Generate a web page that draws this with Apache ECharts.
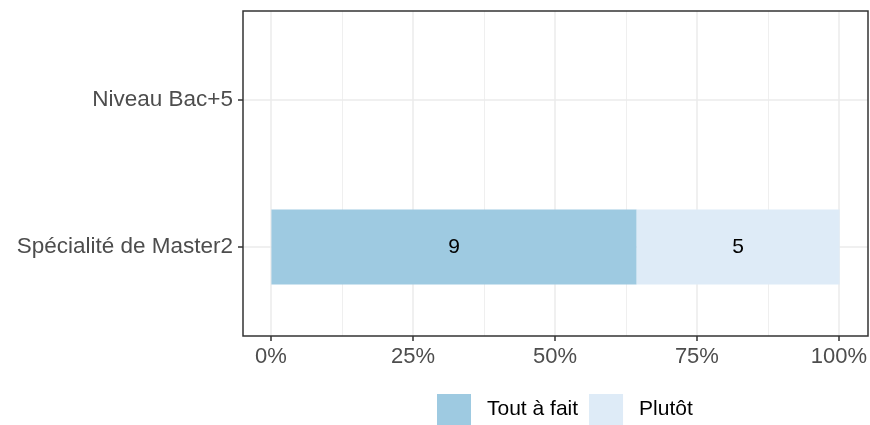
<!DOCTYPE html>
<html>
<head>
<meta charset="utf-8">
<script src="https://cdn.jsdelivr.net/npm/echarts@6/dist/echarts.min.js"></script>
<style>
  html, body { margin: 0; padding: 0; background: #fff; }
  #main { width: 870px; height: 425px; }
</style>
</head>
<body>
<div id="main"></div>
<script>
// categories from bottom to top
var categories = ["Spécialité de Master2", "Niveau Bac+5"];
var seriesNames = ["Tout à fait", "Plutôt"];
var toutAFait = [9, null];
var plutot = [5, null];
var xTicks = [0, 25, 50, 75, 100];
var colors = ["#9ecae1", "#deebf7"];

var counts = [toutAFait, plutot];
var totals = categories.map(function (c, i) {
  return counts.reduce(function (s, arr) { return s + (arr[i] || 0); }, 0);
});
function toPct(arr) {
  return arr.map(function (v, i) {
    return v == null || !totals[i] ? null : { value: v / totals[i] * 100, count: v };
  });
}

var font = "'Liberation Sans', Arial, sans-serif";
var myChart = echarts.init(document.getElementById("main"));

var option = {
  animation: false,
  backgroundColor: "#fff",
  textStyle: { fontFamily: font },
  grid: [
    // x gridlines + labels
    { left: 271, right: 30, top: 11, bottom: 89 },
    // panel border
    { left: 243, right: 2, top: 11, bottom: 89, show: true, borderColor: "#333", borderWidth: 1.5, z: 5 },
    // bars, categories at the top/bottom edges
    { left: 243, right: 2, top: 100, bottom: 178 }
  ],
  xAxis: [
    {
      gridIndex: 0, type: "value", min: xTicks[0], max: xTicks[xTicks.length - 1], interval: 25,
      axisLine: { show: false },
      axisTick: { show: true, length: 5, lineStyle: { color: "#333", width: 1.5 } },
      axisLabel: { color: "#4d4d4d", fontSize: 22, margin: 10, formatter: "{value}%", fontFamily: font },
      splitLine: { show: true, lineStyle: { color: "#ebebeb", width: 1.5 } },
      minorTick: { show: false, splitNumber: 2 },
      minorSplitLine: { show: true, lineStyle: { color: "#ebebeb", width: 0.8 } }
    },
    { gridIndex: 1, type: "value", show: false, min: 0, max: 1 },
    { gridIndex: 2, type: "value", show: false, min: -5, max: 105 }
  ],
  yAxis: [
    { gridIndex: 0, type: "value", show: false },
    { gridIndex: 1, type: "value", show: false },
    {
      gridIndex: 2, type: "category", data: categories, boundaryGap: false,
      axisLine: { show: false, onZero: false },
      axisTick: { show: true, length: 5, lineStyle: { color: "#333", width: 1.5 } },
      axisLabel: { color: "#4d4d4d", fontSize: 22.5, margin: 10, fontFamily: font },
      splitLine: { show: true, lineStyle: { color: "#ebebeb", width: 1.5 } }
    }
  ],
  legend: {
    left: 437, top: 394, padding: 0, itemWidth: 34, itemHeight: 31, itemGap: 11,
    icon: "rect",
    data: seriesNames,
    textStyle: { color: "#000", fontSize: 21, fontFamily: font, padding: [2, 0, 0, 11] }
  },
  series: [toutAFait, plutot].map(function (arr, k) {
    return {
      name: seriesNames[k], type: "bar", stack: "total",
      xAxisIndex: 2, yAxisIndex: 2, barWidth: 75,
      itemStyle: { color: colors[k] },
      data: toPct(arr),
      label: {
        show: true, position: "inside", color: "#000", fontSize: 21, fontFamily: font,
        formatter: function (p) { return p.data ? p.data.count : ""; }
      }
    };
  })
};

myChart.setOption(option);
</script>
</body>
</html>
